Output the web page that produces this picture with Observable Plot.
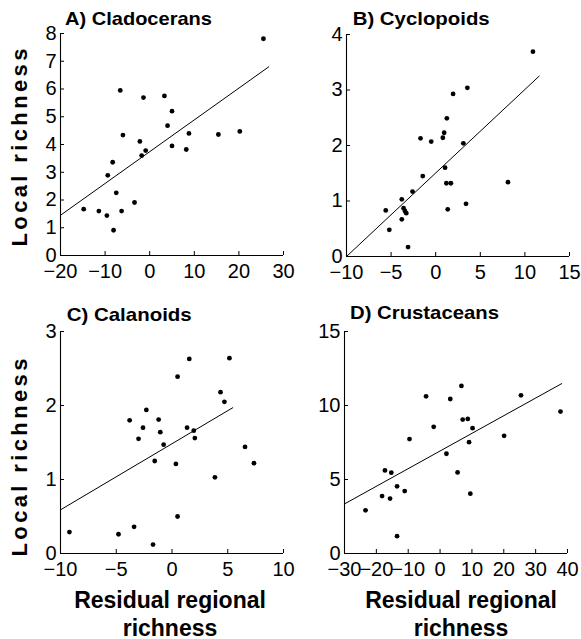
<!DOCTYPE html>
<html><head><meta charset="utf-8">
<script src="https://cdn.jsdelivr.net/npm/d3@7"></script>
<script src="https://cdn.jsdelivr.net/npm/@observablehq/plot@0.6"></script>
<style>
body{margin:0;background:#fff;}
#fig{position:relative;width:581px;height:639px;overflow:hidden;background:#fff;font-family:"Liberation Sans",Arial,sans-serif;}
#fig svg{position:absolute;overflow:visible;}
</style></head><body><div id="fig"></div>
<script>
// ---- Data ----
const titles = ["A) Cladocerans", "B) Cyclopoids", "C) Calanoids", "D) Crustaceans"];
const yAxisLabel = "Local richness";
const xAxisLabel = ["Residual regional", "richness"];

const cladoX = [-14.8, -11.4, -9.6, -8.1, -9.4, -8.3, -7.5, -6.6, -6.0, -6.3, -3.4, -2.2, -1.8, -1.4, -0.9, 3.3, 4.0, 5.0, 5.0, 8.2, 8.8, 15.4, 20.2, 25.5];
const cladoY = [1.67, 1.60, 1.44, 0.91, 2.89, 3.36, 2.26, 5.95, 4.34, 1.60, 1.91, 4.11, 3.60, 5.69, 3.78, 5.75, 4.68, 5.20, 3.95, 3.82, 4.40, 4.36, 4.47, 7.81];
const cladoFitX = [-20, 26.7], cladoFitY = [1.45, 6.80];
const cladoXTicks = [-20, -10, 0, 10, 20, 30], cladoYTicks = [0, 1, 2, 3, 4, 5, 6, 7, 8];

const cycloX = [-5.6, -5.2, -3.8, -3.8, -3.6, -3.45, -3.3, -3.1, -2.6, -1.45, -1.7, -0.5, 0.8, 0.95, 1.25, 1.05, 1.2, 1.7, 1.35, 1.95, 3.1, 3.4, 3.55, 8.1, 10.9];
const cycloY = [0.83, 0.48, 0.67, 1.03, 0.87, 0.82, 0.78, 0.17, 1.17, 1.45, 2.13, 2.07, 2.14, 2.23, 2.49, 1.60, 1.32, 1.32, 0.85, 2.93, 2.04, 0.95, 3.04, 1.34, 3.69];
const cycloFitX = [-10, 11.6], cycloFitY = [0, 3.25];
const cycloXTicks = [-10, -5, 0, 5, 10, 15], cycloYTicks = [0, 1, 2, 3, 4];

const calX = [-9.2, -4.8, -3.4, -1.7, -3.8, -3.0, -2.6, -2.3, -1.55, -1.2, -1.05, -0.75, 0.35, 0.5, 0.5, 1.35, 1.55, 1.95, 2.05, 3.85, 4.35, 4.7, 5.15, 6.55, 7.35];
const calY = [0.29, 0.26, 0.36, 0.12, 1.80, 1.55, 1.70, 1.94, 1.25, 1.81, 1.64, 1.47, 1.21, 0.50, 2.39, 1.70, 2.63, 1.66, 1.56, 1.03, 2.18, 2.05, 2.64, 1.44, 1.22];
const calFitX = [-10, 5.45], calFitY = [0.59, 1.97];
const calXTicks = [-10, -5, 0, 5, 10], calYTicks = [0, 1, 2, 3];

const crustX = [-23.4, -18.2, -17.3, -15.7, -15.3, -13.5, -13.5, -11.1, -9.6, -4.4, -2.0, 2.0, 3.2, 5.5, 6.7, 7.1, 8.7, 9.1, 9.5, 10.2, 20.1, 25.4, 37.8];
const crustY = [2.92, 3.88, 5.61, 3.71, 5.46, 1.17, 4.54, 4.22, 7.73, 10.62, 8.56, 6.74, 10.44, 5.48, 11.32, 9.05, 9.09, 7.52, 4.04, 8.47, 7.95, 10.69, 9.59];
const crustFitX = [-30, 38.2], crustFitY = [3.35, 11.48];
const crustXTicks = [-30, -20, -10, 0, 10, 20, 30, 40], crustYTicks = [0, 5, 10, 15];

// ---- Drawing ----
const fig = document.getElementById("fig");
const FONT = "Liberation Sans, Arial, Helvetica, sans-serif";
const fmt = d3.format("d");

function panel({xs, ys, fx, fy, xTicks, yTicks, left, top}) {
  const W = 223, H = 222, ml = 50, mt = 10, mr = 25, mb = 40;
  const pts = xs.map((x, i) => ({x, y: ys[i]}));
  const fit = fx.map((x, i) => ({x, y: fy[i]}));
  const xd = [xTicks[0], xTicks[xTicks.length - 1]];
  const yd = [yTicks[0], yTicks[yTicks.length - 1]];
  const p = Plot.plot({
    width: ml + W + mr, height: mt + H + mb,
    marginLeft: ml, marginTop: mt, marginRight: mr, marginBottom: mb,
    x: {domain: xd, label: null},
    y: {domain: yd, label: null},
    style: {fontFamily: FONT, color: "black", background: "transparent", overflow: "visible"},
    marks: [
      Plot.ruleY([yd[0]], {stroke: "black", strokeWidth: 1.1}),
      Plot.ruleX([xd[0]], {stroke: "black", strokeWidth: 1.1}),
      Plot.axisX({ticks: xTicks, tickFormat: fmt, tickSize: -4, tickPadding: 12, fontSize: 20, label: null, strokeWidth: 1}),
      Plot.axisY({ticks: yTicks, tickFormat: fmt, tickSize: -4, tickPadding: 8, fontSize: 20, label: null, strokeWidth: 1}),
      Plot.line(fit, {x: "x", y: "y", stroke: "black", strokeWidth: 1}),
      Plot.dot(pts, {x: "x", y: "y", r: 2.4, fill: "black", stroke: "none"})
    ]
  });
  p.style.left = (left - ml) + "px";
  p.style.top = (top - mt) + "px";
  fig.append(p);
}

panel({xs: cladoX, ys: cladoY, fx: cladoFitX, fy: cladoFitY, xTicks: cladoXTicks, yTicks: cladoYTicks, left: 60, top: 33});
panel({xs: cycloX, ys: cycloY, fx: cycloFitX, fy: cycloFitY, xTicks: cycloXTicks, yTicks: cycloYTicks, left: 346, top: 34});
panel({xs: calX, ys: calY, fx: calFitX, fy: calFitY, xTicks: calXTicks, yTicks: calYTicks, left: 60, top: 331});
panel({xs: crustX, ys: crustY, fx: crustFitX, fy: crustFitY, xTicks: crustXTicks, yTicks: crustYTicks, left: 344, top: 331});

// ---- Text overlay ----
const ov = d3.select(fig).append("svg")
  .attr("width", 581).attr("height", 639)
  .style("left", "0px").style("top", "0px")
  .attr("font-family", FONT).attr("font-weight", "bold").attr("fill", "black");

const titlePos = [[65, 24.5, 147], [352.7, 24.5, 137], [66.7, 320.5, 125], [350, 318.5, 149]];
titles.forEach((t, i) => {
  ov.append("text").attr("x", titlePos[i][0]).attr("y", titlePos[i][1])
    .attr("font-size", 18.5).attr("textLength", titlePos[i][2]).attr("lengthAdjust", "spacingAndGlyphs").text(t);
});

[[19, 147.5], [19, 457.5]].forEach(([cx, cy]) => {
  ov.append("text").attr("transform", `translate(${cx},${cy}) rotate(-90)`)
    .attr("text-anchor", "middle").attr("dy", "0.36em").attr("font-size", 22)
    .attr("textLength", 198).attr("lengthAdjust", "spacing").text(yAxisLabel);
});

[170, 461].forEach(cx => {
  ov.append("text").attr("x", cx).attr("y", 608).attr("text-anchor", "middle").attr("font-size", 23).text(xAxisLabel[0]);
  ov.append("text").attr("x", cx).attr("y", 635.5).attr("text-anchor", "middle").attr("font-size", 23).text(xAxisLabel[1]);
});
</script>
</body></html>
